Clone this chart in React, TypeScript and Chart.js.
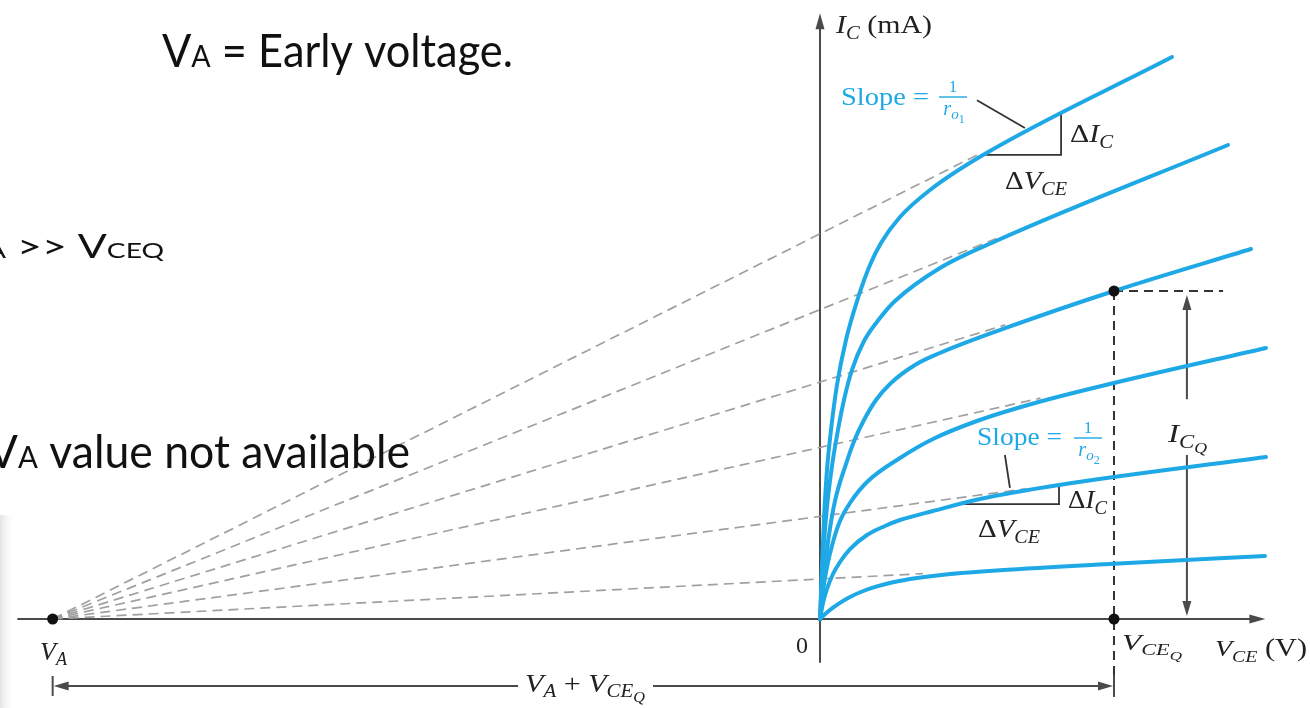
import React, { useEffect, useRef } from 'react';
import { Chart, registerables } from 'chart.js';

Chart.register(...registerables);

// ---- Data (VCE in V, IC in mA; scale) ----
const VA = -26.1; // Early voltage (intercept of all extensions)
const VCEQ = 10;
const ICQ = 6;

const vce1 = [0, 0.068, 0.136, 0.238, 0.374, 0.578, 0.884, 1.293, 1.701, 2.075, 2.721, 3.741, 5.544, 11.973];
const ic1 = [0, 0.951, 1.829, 2.726, 3.457, 4.28, 5.104, 5.872, 6.476, 6.878, 7.354, 7.848, 8.488, 10.28];
const vce2 = [0, 0.068, 0.136, 0.238, 0.408, 0.612, 0.816, 1.088, 1.497, 2.041, 2.551, 4.082, 5.986, 13.878];
const ic2 = [0, 0.732, 1.39, 2.049, 2.799, 3.457, 4.006, 4.555, 5.085, 5.506, 5.817, 6.421, 6.915, 8.671];
const vce3 = [0, 0.068, 0.17, 0.306, 0.51, 0.884, 1.19, 1.497, 1.905, 2.415, 3.231, 4.082, 6.224, 10.0, 14.66];
const ic3 = [0, 0.439, 0.951, 1.537, 2.158, 2.835, 3.293, 3.64, 4.006, 4.317, 4.646, 4.866, 5.305, 6.0, 6.768];
const vce4 = [0, 0.102, 0.238, 0.442, 0.68, 1.02, 1.599, 2.721, 3.844, 5.34, 7.313, 10.0, 15.17];
const ic4 = [0, 0.512, 0.951, 1.409, 1.793, 2.122, 2.506, 2.945, 3.293, 3.622, 3.951, 4.317, 4.957];
const vce5 = [0, 0.102, 0.238, 0.442, 0.68, 1.02, 1.599, 2.211, 2.721, 3.844, 5.442, 8.129, 15.17];
const ic5 = [0, 0.293, 0.549, 0.823, 1.043, 1.28, 1.537, 1.701, 1.811, 1.976, 2.195, 2.451, 2.963];
const vce6 = [0, 0.17, 0.408, 0.68, 1.02, 1.429, 1.905, 2.483, 3.299, 4.422, 6.122, 10.0, 15.136];
const ic6 = [0, 0.087, 0.194, 0.296, 0.402, 0.503, 0.591, 0.673, 0.75, 0.823, 0.893, 1.012, 1.154];

// end points of the dashed extensions drawn from VA
const extVce = [5.5, 6.0, 6.3, 7.5, 7.0, 3.5];
const extIc = [8.53, 6.96, 5.38, 4.04, 2.38, 0.83];

// slope triangles and leaders
const tri1Vce = [5.58, 8.2];
const tri1Ic = [8.49, 9.24];
const tri2Vce = [4.66, 8.13];
const tri2Ic = [2.1, 2.45];
const lead1Vce = [5.34, 6.97];
const lead1Ic = [9.49, 8.98];
const lead2Vce = [6.29, 6.46];
const lead2Ic = [3.0, 2.4];

// axis / dimension extents
const xAxisSpan = [-27.3, 15.15];
const yAxisSpan = [-0.8, 11.08];
const qHorizEnd = 13.71;
const qVertEnd = -1.41;
const icqArrowVce = 12.48;
const icqGap = [3.0, 4.02];
const dimIc = -1.225;
const dimGap = [-10.27, -5.68];

const BLUE = '#1ea9e6';
const SERIF = '"Liberation Serif", "Times New Roman", serif';
const SANS = 'Lato, "Open Sans", sans-serif';
const AXIS = '#4a4a4a';

type Run = { t: string; s: number; i?: boolean; dy?: number; f?: string };

function fontOf(r: Run) {
  return `${r.i ? 'italic ' : ''}${r.s}px ${r.f || SERIF}`;
}
function widths(ctx: CanvasRenderingContext2D, runs: Run[]) {
  return runs.map((r) => {
    ctx.font = fontOf(r);
    return ctx.measureText(r.t).width;
  });
}
function drawRuns(
  ctx: CanvasRenderingContext2D,
  runs: Run[],
  x0: number,
  x1: number | null,
  base: number,
  color: string,
  anchor = 0
) {
  const w = widths(ctx, runs);
  const after = w.slice(anchor).reduce((a, b) => a + b, 0);
  const before = w.slice(0, anchor).reduce((a, b) => a + b, 0);
  const k = x1 != null ? (x1 - x0) / after : 1;
  ctx.save();
  ctx.translate(x0 - before * k, base);
  ctx.scale(k, 1);
  ctx.fillStyle = color;
  ctx.textBaseline = 'alphabetic';
  ctx.textAlign = 'left';
  let x = 0;
  runs.forEach((r, i) => {
    ctx.font = fontOf(r);
    ctx.fillText(r.t, x, r.dy || 0);
    x += w[i];
  });
  ctx.restore();
}
function drawCentered(ctx: CanvasRenderingContext2D, runs: Run[], cx: number, base: number, color: string) {
  const tot = widths(ctx, runs).reduce((a, b) => a + b, 0);
  drawRuns(ctx, runs, cx - tot / 2, null, base, color);
}
function arrowHead(ctx: CanvasRenderingContext2D, x: number, y: number, dx: number, dy: number, len = 14, half = 4.5) {
  const px = -dy;
  const py = dx;
  ctx.beginPath();
  ctx.moveTo(x, y);
  ctx.lineTo(x - dx * len + px * half, y - dy * len + py * half);
  ctx.lineTo(x - dx * len - px * half, y - dy * len - py * half);
  ctx.closePath();
  ctx.fill();
}
function line(ctx: CanvasRenderingContext2D, x0: number, y0: number, x1: number, y1: number) {
  ctx.beginPath();
  ctx.moveTo(x0, y0);
  ctx.lineTo(x1, y1);
  ctx.stroke();
}

const annot = {
  id: 'annot',
  beforeDatasetsDraw(chart: any) {
    const ctx: CanvasRenderingContext2D = chart.ctx;
    const X = (v: number) => chart.scales.x.getPixelForValue(v);
    const Y = (v: number) => chart.scales.y.getPixelForValue(v);
    ctx.save();
    // faint slide edge at the left
    const g = ctx.createLinearGradient(0, 0, 16, 0);
    g.addColorStop(0, 'rgba(225,225,225,0.9)');
    g.addColorStop(1, 'rgba(255,255,255,0)');
    ctx.fillStyle = g;
    ctx.fillRect(0, 515, 16, 193);

    // Q-point dashed lines
    ctx.strokeStyle = '#333';
    ctx.lineWidth = 2;
    ctx.setLineDash([9, 6]);
    line(ctx, X(VCEQ), Y(ICQ), X(qHorizEnd), Y(ICQ));
    line(ctx, X(VCEQ), Y(ICQ), X(VCEQ), Y(qVertEnd));
    ctx.setLineDash([]);

    // axes
    ctx.strokeStyle = AXIS;
    ctx.fillStyle = AXIS;
    ctx.lineWidth = 2;
    line(ctx, X(xAxisSpan[0]), Y(0), X(xAxisSpan[1]) - 10, Y(0));
    arrowHead(ctx, X(xAxisSpan[1]), Y(0), 1, 0, 16, 4.5);
    line(ctx, X(0), Y(yAxisSpan[0]), X(0), Y(yAxisSpan[1]) + 10);
    arrowHead(ctx, X(0), Y(yAxisSpan[1]), 0, -1, 16, 4.5);

    // slope triangles and leaders
    ctx.strokeStyle = '#333';
    ctx.lineWidth = 1.8;
    ctx.beginPath();
    ctx.moveTo(X(tri1Vce[0]), Y(tri1Ic[0]));
    ctx.lineTo(X(tri1Vce[1]), Y(tri1Ic[0]));
    ctx.lineTo(X(tri1Vce[1]), Y(tri1Ic[1]));
    ctx.stroke();
    ctx.beginPath();
    ctx.moveTo(X(tri2Vce[0]), Y(tri2Ic[0]));
    ctx.lineTo(X(tri2Vce[1]), Y(tri2Ic[0]));
    ctx.lineTo(X(tri2Vce[1]), Y(tri2Ic[1]));
    ctx.stroke();
    line(ctx, X(lead1Vce[0]), Y(lead1Ic[0]), X(lead1Vce[1]), Y(lead1Ic[1]));
    line(ctx, X(lead2Vce[0]), Y(lead2Ic[0]), X(lead2Vce[1]), Y(lead2Ic[1]));

    // ICQ dimension arrow
    ctx.strokeStyle = AXIS;
    ctx.fillStyle = AXIS;
    ctx.lineWidth = 2;
    const ax = X(icqArrowVce);
    line(ctx, ax, Y(ICQ) + 14, ax, Y(icqGap[1]));
    line(ctx, ax, Y(icqGap[0]), ax, Y(0) - 14);
    arrowHead(ctx, ax, Y(ICQ) + 4, 0, -1, 15, 4.5);
    arrowHead(ctx, ax, Y(0) - 3, 0, 1, 15, 4.5);

    // bottom dimension line VA + VCEQ
    const dy = Y(dimIc);
    line(ctx, X(VA) + 12, dy, X(dimGap[0]), dy);
    line(ctx, X(dimGap[1]), dy, X(VCEQ) - 12, dy);
    arrowHead(ctx, X(VA) + 1, dy, -1, 0, 15, 4.5);
    arrowHead(ctx, X(VCEQ) - 1, dy, 1, 0, 15, 4.5);
    line(ctx, X(VA), dy - 10, X(VA), dy + 10);
    line(ctx, X(VCEQ), dy - 11, X(VCEQ), dy + 11);
    ctx.restore();
  },
  afterDatasetsDraw(chart: any) {
    const ctx: CanvasRenderingContext2D = chart.ctx;
    const X = (v: number) => chart.scales.x.getPixelForValue(v);
    const Y = (v: number) => chart.scales.y.getPixelForValue(v);
    ctx.save();
    // dots
    ctx.fillStyle = '#111';
    [[VA, 0], [VCEQ, ICQ], [VCEQ, 0]].forEach(([a, b]) => {
      ctx.beginPath();
      ctx.arc(X(a), Y(b), 5.5, 0, Math.PI * 2);
      ctx.fill();
    });

    // slide text (left)
    const K = '#111';
    drawRuns(ctx, [
      { t: 'V', s: 47, f: SANS },
      { t: 'A', s: 31, f: SANS },
      { t: ' = Early voltage.', s: 47, f: SANS },
    ], 162, 513, 67, K);
    drawRuns(ctx, [
      { t: 'V', s: 32, f: SANS },
      { t: 'A', s: 21, f: SANS },
      { t: ' ', s: 32, f: SANS },
      { t: '>>', s: 32, f: SANS },
      { t: ' ', s: 32, f: SANS },
      { t: 'V', s: 32, f: SANS },
      { t: 'CEQ', s: 21, f: SANS },
    ], 17, 164, 258, K, 3);
    drawRuns(ctx, [
      { t: 'V', s: 47, f: SANS },
      { t: 'A', s: 31, f: SANS },
      { t: ' value not available', s: 47, f: SANS },
    ], 18, 410, 468, K, 1);

    // figure labels
    const T = '#222';
    drawRuns(ctx, [
      { t: 'I', s: 26, i: true },
      { t: 'C', s: 18, i: true, dy: 6 },
      { t: ' (mA)', s: 26 },
    ], 836, 932, 33, T);
    drawCentered(ctx, [{ t: '0', s: 24 }], X(0) - 18, 653, T);
    drawRuns(ctx, [
      { t: 'V', s: 26, i: true },
      { t: 'A', s: 18, i: true, dy: 5 },
    ], 40, 67, 660, T);
    drawRuns(ctx, [
      { t: 'V', s: 24, i: true },
      { t: 'CE', s: 17, i: true, dy: 5 },
      { t: 'Q', s: 13, i: true, dy: 10 },
    ], 1122, 1182, 650, T);
    drawRuns(ctx, [
      { t: 'V', s: 24, i: true },
      { t: 'CE', s: 17, i: true, dy: 6 },
      { t: ' (V)', s: 26 },
    ], 1215, 1307, 656, T);
    drawRuns(ctx, [
      { t: 'I', s: 26, i: true },
      { t: 'C', s: 18, i: true, dy: 6 },
      { t: 'Q', s: 14, i: true, dy: 11 },
    ], 1168, 1207, 442, T);
    drawRuns(ctx, [
      { t: 'V', s: 26, i: true },
      { t: 'A', s: 18, i: true, dy: 5 },
      { t: ' + ', s: 26 },
      { t: 'V', s: 26, i: true },
      { t: 'CE', s: 18, i: true, dy: 5 },
      { t: 'Q', s: 14, i: true, dy: 10 },
    ], 525, 645, 692, T);
    const dI: Run[] = [
      { t: '\u0394', s: 26 },
      { t: 'I', s: 26, i: true },
      { t: 'C', s: 18, i: true, dy: 6 },
    ];
    const dV: Run[] = [
      { t: '\u0394', s: 26 },
      { t: 'V', s: 26, i: true },
      { t: 'CE', s: 18, i: true, dy: 6 },
    ];
    drawRuns(ctx, dI, 1070, 1113, 142, T);
    drawRuns(ctx, dV, 1005, 1067, 189, T);
    drawRuns(ctx, dI, 1068, 1107, 508, T);
    drawRuns(ctx, dV, 978, 1040, 537, T);

    // slope labels (blue)
    const slope = (x0: number, x1: number, base: number, fx: number, fy: number, sub: string) => {
      drawRuns(ctx, [{ t: 'Slope =', s: 26 }], x0, x1, base, BLUE);
      drawCentered(ctx, [{ t: '1', s: 17 }], fx, fy - 5, BLUE);
      ctx.strokeStyle = BLUE;
      ctx.lineWidth = 1.4;
      line(ctx, fx - 14, fy, fx + 14, fy);
      drawCentered(ctx, [
        { t: 'r', s: 20, i: true },
        { t: 'o', s: 15, i: true, dy: 4 },
        { t: sub, s: 12, dy: 8 },
      ], fx + 1, fy + 18, BLUE);
    };
    slope(841, 929, 105, 953, 97, '1');
    slope(977, 1062, 445, 1088, 438, '2');
    ctx.restore();
  },
};

function pts(vce: number[], ic: number[]) {
  return vce.map((x, i) => ({ x, y: ic[i] }));
}

export default function App() {
  const ref = useRef<HTMLCanvasElement | null>(null);
  useEffect(() => {
    if (!ref.current) return;
    const curves = [
      [vce1, ic1],
      [vce2, ic2],
      [vce3, ic3],
      [vce4, ic4],
      [vce5, ic5],
      [vce6, ic6],
    ];
    const curveSets = curves.map(([v, c]) => ({
      data: pts(v, c),
      showLine: true,
      borderColor: BLUE,
      borderWidth: 4,
      pointRadius: 0,
      fill: false,
      cubicInterpolationMode: 'monotone' as const,
      borderCapStyle: 'round' as const,
      order: 0,
    }));
    const extSets = extVce.map((v, i) => ({
      data: [
        { x: VA, y: 0 },
        { x: v, y: extIc[i] },
      ],
      showLine: true,
      borderColor: '#a0a0a0',
      borderWidth: 1.7,
      borderDash: [10, 6],
      pointRadius: 0,
      fill: false,
      order: 1,
    }));
    const chart = new Chart(ref.current, {
      type: 'scatter',
      data: { datasets: [...curveSets, ...extSets] as any },
      options: {
        animation: false,
        responsive: false,
        devicePixelRatio: 1,
        events: [],
        layout: { padding: 0 },
        plugins: { legend: { display: false }, tooltip: { enabled: false } },
        scales: {
          x: { type: 'linear', min: -27.891, max: 16.667, display: false },
          y: { type: 'linear', min: -1.628, max: 11.323, display: false },
        },
      },
      plugins: [annot],
    });
    return () => chart.destroy();
  }, []);
  return (
    <div style={{ position: 'fixed', left: 0, top: 0, width: 1310, height: 708, background: '#fff' }}>
      <canvas ref={ref} width={1310} height={708} style={{ display: 'block' }} />
    </div>
  );
}
